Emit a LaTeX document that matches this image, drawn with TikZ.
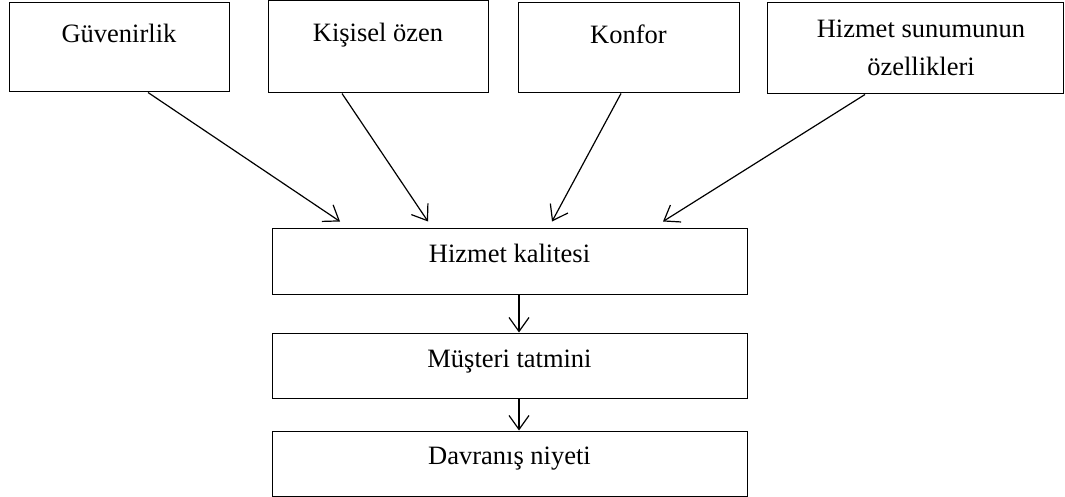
\documentclass[tikz,border=0pt]{standalone}
\usepackage{fontspec}
\setmainfont{Liberation Serif}
\usetikzlibrary{arrows.meta}
\begin{document}
\begin{tikzpicture}[x=1pt,y=-1pt,
  box/.style={draw=black, line width=1pt, rectangle, inner sep=0pt},
  lbl/.style={font=\fontsize{26.5}{38}\selectfont, inner sep=0pt},
  link/.style={line width=1.2pt,
    -{Straight Barb[length=14pt,width=20pt,line width=1.2pt]}}]
\useasboundingbox (0,0) rectangle (1065,497);

% factor boxes
\node[box, minimum width=220pt, minimum height=89pt] (g) at (119,47.5) {};
\node[box, minimum width=220pt, minimum height=92pt] (k) at (378,47) {};
\node[box, minimum width=221pt, minimum height=90pt] (c) at (628.5,48) {};
\node[box, minimum width=296pt, minimum height=91pt] (h) at (915,48.5) {};

\node[lbl, anchor=base] (gt) at ([yshift=-40pt]g.north) {Güvenirlik};
\node[lbl, anchor=base] (kt) at ([yshift=-41pt]k.north) {Kişisel özen};
\node[lbl, anchor=base] (ct) at ([yshift=-41pt]c.north) {Konfor};
% two-line label: its base anchor sits on the last line
\node[lbl, anchor=base, align=center] (ht) at ([xshift=6pt,yshift=-73pt]h.north)
  {Hizmet sunumunun\\özellikleri};

% outcome chain
\node[box, minimum width=475pt, minimum height=66pt] (hk) at (509.5,261) {};
\node[box, minimum width=475pt, minimum height=65pt] (mt) at (509.5,365.5) {};
\node[box, minimum width=475pt, minimum height=65pt] (dn) at (509.5,463.5) {};

\node[lbl, anchor=base] (hkt) at ([yshift=-35pt]hk.north) {Hizmet kalitesi};
\node[lbl, anchor=base] (mtt) at ([yshift=-35pt]mt.north) {Müşteri tatmini};
\node[lbl, anchor=base] (dnt) at ([yshift=-34pt]dn.north) {Davranış niyeti};

% factors feed service quality
\draw[link] ([xshift=29pt]g.south) -- ([xshift=-169.5pt,yshift=6pt]hk.north);
\draw[link] ([xshift=-36pt]k.south) -- ([xshift=-81.5pt,yshift=6pt]hk.north);
\draw[link] ([xshift=-7.5pt]c.south) -- ([xshift=42.5pt,yshift=6pt]hk.north);
\draw[link] ([xshift=-50pt]h.south) -- ([xshift=153.5pt,yshift=6pt]hk.north);

% chain arrows
\draw[link] ([xshift=9.5pt]hk.south) -- ([xshift=9.5pt]mt.north);
\draw[link] ([xshift=9.5pt]mt.south) -- ([xshift=9.5pt]dn.north);
\end{tikzpicture}
\end{document}
